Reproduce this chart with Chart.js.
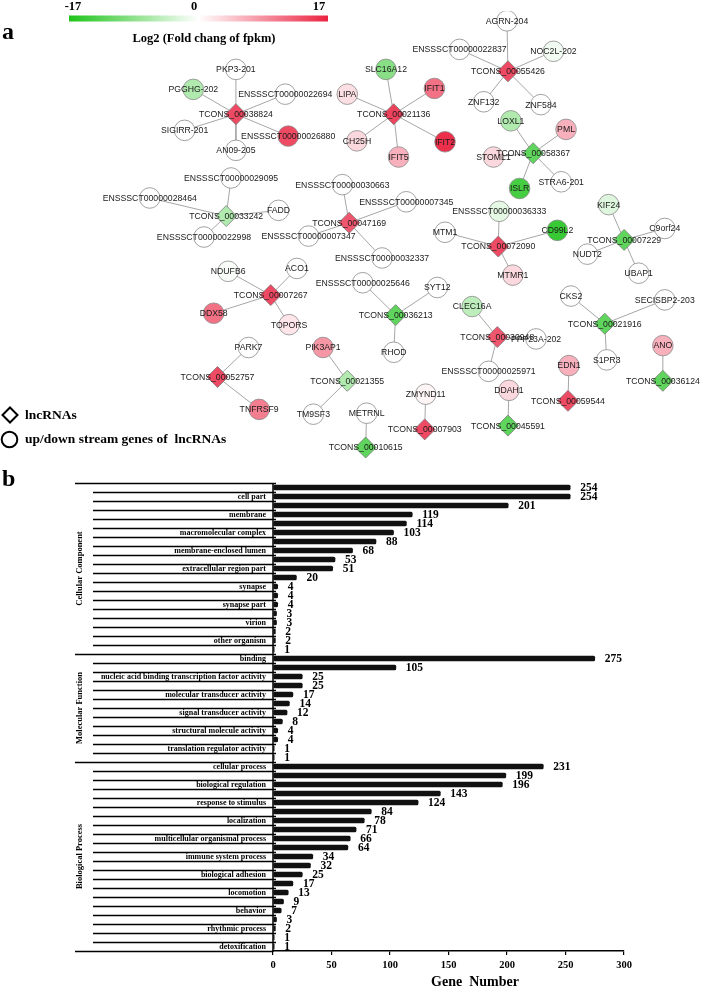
<!DOCTYPE html>
<html><head><meta charset="utf-8">
<script src="https://cdn.jsdelivr.net/npm/chart.js@4.4.1/dist/chart.umd.min.js"></script>
<style>
body{margin:0;background:#fff;}
#wrap{position:relative;width:709px;height:989px;overflow:hidden;background:#fff;}
canvas{position:absolute;left:0;}
</style>
</head><body>
<div id="wrap">
<canvas id="net" width="709" height="475" style="top:0"></canvas>
<canvas id="bar" width="709" height="529" style="top:460px"></canvas>
</div>
<script>
// ---------- Panel a: network data ----------
const foldRange = [-17, 0, 17];
const lncNames = ['TCONS_00038824','TCONS_00021136','TCONS_00055426','TCONS_00058367','TCONS_00033242','TCONS_00047169','TCONS_00072090','TCONS_00007229','TCONS_00007267','TCONS_00036213','TCONS_00030948','TCONS_00021916','TCONS_00052757','TCONS_00021355','TCONS_00007903','TCONS_00010615','TCONS_00045591','TCONS_00059544','TCONS_00036124'];
const lncX = [232,395,513,539,222,349,503,633,268,397,502,613,213,347,427,366,513,575,673];
const lncY = [108,108,63,149,215,222,247,240,298,319,342,328,384,388,439,458,435,409,388];
const lncFold = [14,14.5,14,-12,-6,13,14,-12,14,-12,13,-12,14,-6,14,-12,-12,14,-12];

const geneNames = ['PKP3-201','PGGHG-202','ENSSSCT00000022694','SIGIRR-201','ENSSSCT00000026880','AN09-205',
 'SLC16A12','LIPA','IFIT1','CH25H','IFIT5','IFIT2',
 'AGRN-204','ENSSSCT00000022837','NOC2L-202','ZNF132','ZNF584',
 'LOXL1','PML','STOML1','STRA6-201','ISLR',
 'ENSSSCT00000029095','ENSSSCT00000028464','FADD','ENSSSCT00000022998',
 'ENSSSCT00000030663','ENSSSCT00000007345','ENSSSCT00000007347','ENSSSCT00000032337',
 'ENSSSCT00000036333','MTM1','CD99L2','MTMR1',
 'KIF24','C9orf24','NUDT2','UBAP1',
 'NDUFB6','ACO1','DDX58','TOPORS',
 'ENSSSCT00000025646','SYT12','RHOD',
 'CLEC16A','PPP23A-202','ENSSSCT00000025971',
 'CKS2','SECISBP2-203','S1PR3',
 'PARK7','TNFRSF9',
 'PIK3AP1','TM9SF3',
 'ZMYND11','METRNL','DDAH1','EDN1','ANO'];
const geneX = [232,188,283,179,286,232, 387,347,437,357,400,448, 512,463,560,488,547, 516,573,498,568,525, 227,143,276,199, 342,408,307,383, 504,448,564,518, 617,675,595,648, 224,295,209,287, 363,440,395, 476,542,493, 578,675,615, 245,256, 322,312, 428,367,514,576,673];
const geneY = [61,82,87,125,131,146, 61,87,81,136,153,137, 10,40,42,95,98, 115,124,153,179,186, 175,196,209,237, 182,200,236,259, 210,232,230,277, 203,228,255,275, 273,270,317,329, 285,290,358, 310,344,378, 299,303,366, 353,418, 353,423, 402,422,398,372,351];
const geneFold = [0,-6,0,0,14,0, -9,2.5,11,3,6,16, 0,0,-1,0,0, -6,6,3,0,-14, 0,0,0,0, 0,0,0,0, -2,0,-15,3, -2.5,0,0,0, -0.5,0,11,2, 0,0,0, -5,0,0, 0,0,0, 0,10, 8,0, 0.8,0,3,6,6];
const geneHub = [0,0,0,0,0,0, 1,1,1,1,1,1, 2,2,2,2,2, 3,3,3,3,3, 4,4,4,4, 5,5,5,5, 6,6,6,6, 7,7,7,7, 8,8,8,8, 9,9,9, 10,10,10, 11,11,11, 12,12, 13,13, 14,15,16,17,18];

// ---------- Panel b: GO data ----------
const ccLabels = ['','cell part','','membrane','','macromolecular complex','','membrane-enclosed lumen','','extracellular region part','','synapse','','synapse part','','virion','','other organism',''];
const ccValues = [254,254,201,119,114,103,88,68,53,51,20,4,4,4,3,3,2,2,1];
const mfLabels = ['binding','','nucleic acid binding transcription factor activity','','molecular transducer activity','','signal transducer activity','','structural molecule activity','','translation regulator activity',''];
const mfValues = [275,105,25,25,17,14,12,8,4,4,1,1];
const bpLabels = ['cellular process','','biological regulation','','response to stimulus','','localization','','multicellular organismal process','','immune system process','','biological adhesion','','locomotion','','behavior','','rhythmic process','','detoxification'];
const bpValues = [231,199,196,143,124,84,78,71,66,64,34,32,25,17,13,9,7,3,2,1,1];
const groupNames = ['Cellular Component','Molecular Function','Biological Process'];
const xTicks = [0,50,100,150,200,250,300];

// ---------- helpers ----------
const SERIF = '"Liberation Serif","Times New Roman",serif';
const SANS = '"Liberation Sans",Arial,sans-serif';
const LOW = [30,195,25], MID = [255,255,255], HIGH = [235,35,65];
function foldColor(v){
  const t = Math.max(-1, Math.min(1, v / foldRange[2]));
  const end = t < 0 ? LOW : HIGH, a = Math.abs(t);
  const c = MID.map((m,i)=>Math.round(m + (end[i]-m)*a));
  return 'rgb(' + c.join(',') + ')';
}

// ---------- Panel a chart ----------
const edgeSets = geneHub.map((h,i)=>({
  type:'line', data:[{x:lncX[h],y:lncY[h]},{x:geneX[i],y:geneY[i]}],
  borderColor:'#a6a6a6', borderWidth:1, pointRadius:0, fill:false, order:5
}));
const geneSet = {
  type:'scatter', data:geneX.map((x,i)=>({x:x,y:geneY[i]})), pointStyle:'circle', pointRadius:10.3,
  backgroundColor:geneFold.map(foldColor), borderColor:'#8a8a8a', borderWidth:0.8, order:2
};
const lncSet = {
  type:'scatter', data:lncX.map((x,i)=>({x:x,y:lncY[i]})), pointStyle:'rectRot', pointRadius:10.5,
  backgroundColor:lncFold.map(foldColor), borderColor:'#7a7a7a', borderWidth:0.8, order:1
};

const netDecor = {
  id:'netDecor',
  afterDatasetsDraw(chart){
    const ctx = chart.ctx;
    const n = chart.data.datasets.length;
    const gMeta = chart.getDatasetMeta(n-2), lMeta = chart.getDatasetMeta(n-1);
    ctx.save();
    ctx.fillStyle = '#1a1a1a';
    ctx.font = '8.7px ' + SANS;
    ctx.textAlign = 'center'; ctx.textBaseline = 'middle';
    gMeta.data.forEach((p,i)=>ctx.fillText(geneNames[i], p.x, p.y+0.5));
    lMeta.data.forEach((p,i)=>ctx.fillText(lncNames[i], p.x, p.y+0.5));
    // panel letter
    ctx.fillStyle = '#000';
    ctx.textAlign = 'left'; ctx.textBaseline = 'alphabetic';
    ctx.font = 'bold 24px ' + SERIF;
    ctx.fillText('a', 2, 39);
    // colour bar
    const gx0 = 69, gx1 = 328;
    const g = ctx.createLinearGradient(gx0,0,gx1,0);
    g.addColorStop(0, 'rgb(' + LOW.join(',') + ')');
    g.addColorStop(0.5, '#ffffff');
    g.addColorStop(1, 'rgb(' + HIGH.join(',') + ')');
    ctx.fillStyle = g;
    ctx.fillRect(gx0, 15.5, gx1-gx0, 6);
    ctx.fillStyle = '#000';
    ctx.font = 'bold 12.5px ' + SERIF;
    ctx.textAlign = 'center'; ctx.textBaseline = 'middle';
    ctx.fillText(String(foldRange[0]), 73, 6.5);
    ctx.fillText(String(foldRange[1]), 194, 6.5);
    ctx.fillText(String(foldRange[2]), 319, 6.5);
    ctx.font = 'bold 12.5px ' + SERIF;
    ctx.fillText('Log2 (Fold chang of fpkm)', 204, 39);
    // legend
    ctx.strokeStyle = '#000'; ctx.lineWidth = 2;
    ctx.beginPath();
    ctx.moveTo(10,407.5); ctx.lineTo(17.5,415); ctx.lineTo(10,422.5); ctx.lineTo(2.5,415); ctx.closePath();
    ctx.stroke();
    ctx.beginPath(); ctx.arc(9.5,439.5,7.8,0,Math.PI*2); ctx.stroke();
    ctx.font = 'bold 13.5px ' + SERIF;
    ctx.textAlign = 'left';
    ctx.fillText('lncRNAs', 25, 415.5);
    ctx.fillText('up/down stream genes of  lncRNAs', 25, 440);
    ctx.restore();
  }
};

new Chart(document.getElementById('net'), {
  type:'scatter',
  data:{datasets:[...edgeSets, geneSet, lncSet]},
  options:{
    responsive:false, animation:false, events:[],
    layout:{padding:0},
    plugins:{legend:{display:false}, tooltip:{enabled:false}},
    scales:{
      x:{type:'linear', display:false, min:0, max:709},
      y:{type:'linear', display:false, min:0, max:475, reverse:true}
    }
  },
  plugins:[netDecor]
});

// ---------- Panel b chart ----------
const allLabels = [...ccLabels, ...mfLabels, ...bpLabels];
const allValues = [...ccValues, ...mfValues, ...bpValues];
const groupSizes = [ccValues.length, mfValues.length, bpValues.length];

const barDecor = {
  id:'barDecor',
  beforeDatasetsDraw(chart){
    const ctx = chart.ctx, ca = chart.chartArea;
    const nRows = allValues.length, rowH = (ca.bottom - ca.top)/nRows;
    const bounds = [0, groupSizes[0], groupSizes[0]+groupSizes[1]];
    ctx.save();
    ctx.strokeStyle = '#000';
    ctx.lineWidth = 1.3;
    for (let k=0;k<nRows;k++){
      const y = Math.round(ca.top + k*rowH) + 0.5;
      const x0 = bounds.includes(k) ? 75 : 93;
      ctx.beginPath(); ctx.moveTo(x0,y); ctx.lineTo(ca.left+3,y); ctx.stroke();
    }
    // bottom extension of x axis to the left
    ctx.lineWidth = 1.5;
    ctx.beginPath(); ctx.moveTo(75, ca.bottom+0.5); ctx.lineTo(ca.left, ca.bottom+0.5); ctx.stroke();
    // y axis line
    ctx.beginPath(); ctx.moveTo(ca.left, ca.top); ctx.lineTo(ca.left, ca.bottom+1); ctx.stroke();
    // group labels
    ctx.fillStyle = '#000';
    ctx.font = 'bold 8.5px ' + SERIF;
    ctx.textAlign = 'center'; ctx.textBaseline = 'middle';
    let start = 0;
    groupSizes.forEach((s,gi)=>{
      const yc = ca.top + (start + s/2)*rowH;
      ctx.save(); ctx.translate(80, yc); ctx.rotate(-Math.PI/2);
      ctx.fillText(groupNames[gi], 0, 0);
      ctx.restore();
      start += s;
    });
    // panel letter
    ctx.font = 'bold 24px ' + SERIF;
    ctx.textAlign = 'left'; ctx.textBaseline = 'alphabetic';
    ctx.fillText('b', 2, 26);
    // axis title
    ctx.font = 'bold 14px ' + SERIF;
    ctx.textAlign = 'center';
    ctx.fillText('Gene  Number', 475, 526);
    ctx.restore();
  },
  afterDatasetsDraw(chart){
    const ctx = chart.ctx;
    const meta = chart.getDatasetMeta(0);
    ctx.save();
    ctx.fillStyle = '#000';
    ctx.font = 'bold 11.5px ' + SERIF;
    ctx.textAlign = 'left'; ctx.textBaseline = 'middle';
    meta.data.forEach((b,i)=>ctx.fillText(String(allValues[i]), b.x + 10, b.y + 1));
    ctx.restore();
  }
};

new Chart(document.getElementById('bar'), {
  type:'bar',
  data:{labels:allLabels, datasets:[{data:allValues, backgroundColor:'#111', barThickness:5, borderRadius:1.5, borderSkipped:false}]},
  options:{
    indexAxis:'y', responsive:false, animation:false, events:[],
    layout:{padding:{top:23, right:85, left:0, bottom:0}},
    plugins:{legend:{display:false}, tooltip:{enabled:false}},
    scales:{
      x:{type:'linear', min:xTicks[0], max:xTicks[xTicks.length-1],
         afterBuildTicks(s){ s.ticks = xTicks.map(v=>({value:v})); },
         ticks:{color:'#000', font:{family:SERIF, weight:'bold', size:10.5}, padding:4, maxRotation:0},
         grid:{drawOnChartArea:false, drawTicks:true, tickLength:4, color:'#000', lineWidth:1.2},
         border:{display:true, color:'#000', width:1.5},
         afterFit(s){ s.height = 38; }},
      y:{type:'category',
         ticks:{autoSkip:false, color:'#000', font:{family:SERIF, weight:'bold', size:8}, padding:7},
         grid:{display:false, drawTicks:false},
         border:{display:false},
         afterFit(s){ s.width = 273; }}
    }
  },
  plugins:[barDecor]
});
</script>
</body></html>
